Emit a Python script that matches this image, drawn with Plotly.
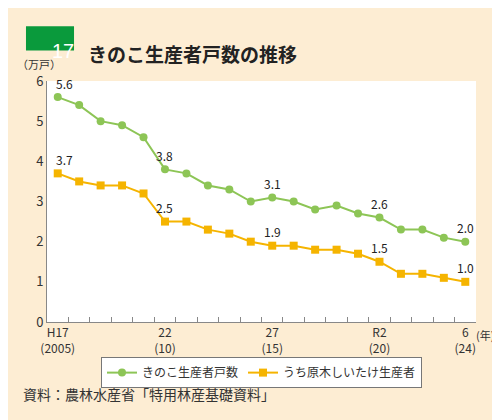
import plotly.graph_objects as go

years = ["H17","18","19","20","21","22","23","24","25","26","27","28","29","30","R1","R2","3","4","5","6"]
tick_text = ["H17<br>(2005)","","","","","22<br>(10)","","","","","27<br>(15)","","","","","R2<br>(20)","","","","6<br>(24)"]
kinoko = [5.6,5.4,5.0,4.9,4.6,3.8,3.7,3.4,3.3,3.0,3.1,3.0,2.8,2.9,2.7,2.6,2.3,2.3,2.1,2.0]
genboku = [3.7,3.5,3.4,3.4,3.2,2.5,2.5,2.3,2.2,2.0,1.9,1.9,1.8,1.8,1.7,1.5,1.2,1.2,1.1,1.0]
label_idx = [0,5,10,15,19]

F = "Noto Sans CJK JP"
fig = go.Figure()
fig.add_trace(go.Scatter(x=years, y=kinoko, mode="lines+markers", name="きのこ生産者戸数",
    line=dict(color="#8dc556", width=2), marker=dict(color="#8dc556", size=8, symbol="circle")))
fig.add_trace(go.Scatter(x=years, y=genboku, mode="lines+markers", name="うち原木しいたけ生産者",
    line=dict(color="#f5b400", width=2), marker=dict(color="#f5b400", size=8, symbol="square")))

anns = []
for i in label_idx:
    for arr in (kinoko, genboku):
        anns.append(dict(x=i, y=arr[i], text=f"{arr[i]:.1f}", showarrow=False, yshift=14,
                         xshift=7 if i == 0 else 0, font=dict(size=12, color="#222", family=F)))
anns += [
    dict(xref="paper", yref="paper", x=-0.075, y=1.07, xanchor="left", yanchor="middle", text="（万戸）",
         showarrow=False, font=dict(size=11, color="#333", family=F)),
    dict(xref="paper", yref="paper", x=0.995, y=-0.055, xanchor="left", yanchor="middle", text="(年)",
         showarrow=False, font=dict(size=11, color="#333", family=F)),
    dict(xref="paper", yref="paper", x=-0.06, y=-0.30, xanchor="left", yanchor="middle",
         text="資料：農林水産省「特用林産基礎資料」", showarrow=False, font=dict(size=14, color="#333", family=F)),
    dict(xref="paper", yref="paper", x=0.007, y=1.18, text="17", showarrow=False,
         font=dict(size=20, color="white", family="Liberation Sans")),
    dict(xref="paper", yref="paper", x=0.09, y=1.18, xanchor="left", text="<b>きのこ生産者戸数の推移</b>",
         showarrow=False, font=dict(size=19, color="#222", family=F)),
]
fig.update_layout(
    width=500, height=420, paper_bgcolor="#fdedd3", plot_bgcolor="white",
    margin=dict(l=39, r=32, t=73, b=106, autoexpand=False), annotations=anns,
    font=dict(family=F, color="#333"),
    legend=dict(orientation="h", x=0.5, xanchor="center", y=-0.21, yanchor="middle",
                bgcolor="white", bordercolor="#777", borderwidth=1, font=dict(size=12, family=F)),
    xaxis=dict(type="category", tickson="boundaries", ticks="inside", ticklen=5, tickcolor="#888",
               tickvals=years, ticktext=tick_text, tickangle=0, automargin=False,
               showline=True, linecolor="#888", showgrid=False,
               tickfont=dict(size=12, family=F, color="#333"), range=[-0.5, 19.5]),
    yaxis=dict(range=[0, 6], dtick=1, showline=True, linecolor="#888", showgrid=False, zeroline=False,
               ticks="", automargin=False, tickfont=dict(size=13, family=F, color="#333")),
    shapes=[dict(type="rect", xref="paper", yref="paper", x0=-0.049, x1=0.063, y0=1.127, y1=1.227,
                 fillcolor="#0a9a3c", line=dict(width=0))],
)
fig.write_html("out.html")
